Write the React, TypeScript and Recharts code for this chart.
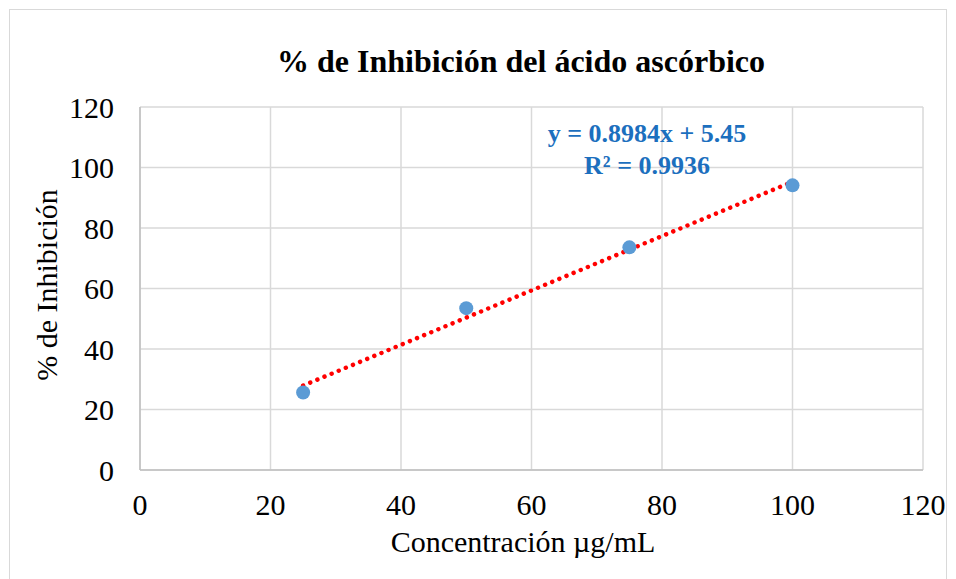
import React from 'react'
import { ScatterChart, Scatter, XAxis, YAxis, CartesianGrid, ReferenceLine } from 'recharts'

const concentracion = [25, 50, 75, 100]
const inhibicion = [25.6, 53.5, 73.6, 94.1]
const xTicks = [0, 20, 40, 60, 80, 100, 120]
const yTicks = [0, 20, 40, 60, 80, 100, 120]
// linear trendline y = 0.8984x + 5.45, evaluated at the first and last x
const trendX = [25, 100]
const trendY = [27.91, 95.29]

const points = concentracion.map((x, i) => ({ x, y: inhibicion[i] }))
const trend = trendX.map((x, i) => ({ x, y: trendY[i] }))

const serif = '"Liberation Serif", "Times New Roman", serif'

export default function App() {
  return (
    <div style={{ position: 'relative', width: 938, height: 580, border: '1px solid #d9d9d9', boxSizing: 'border-box', margin: '1px 0 0 1px', fontFamily: serif, background: '#fff' }}>
      <ScatterChart width={936} height={570} margin={{ top: 97, right: 23, bottom: 50, left: 60 }}>
        <CartesianGrid stroke="#d9d9d9" strokeWidth={1.5} />
        <XAxis type="number" dataKey="x" domain={[0, 120]} ticks={xTicks} height={60}
          axisLine={{ stroke: '#bfbfbf', strokeWidth: 1.5 }} tickLine={false} tickSize={0} tickMargin={24}
          tick={{ fill: '#000', fontSize: 30, fontFamily: serif }} />
        <YAxis type="number" dataKey="y" domain={[0, 120]} ticks={yTicks} width={70}
          axisLine={{ stroke: '#bfbfbf', strokeWidth: 1.5 }} tickLine={false} tickSize={0} tickMargin={26}
          tick={{ fill: '#000', fontSize: 30, fontFamily: serif }} />
        <Scatter data={points} fill="#5b9bd5" isAnimationActive={false}
          shape={(p: any) => <circle cx={p.cx} cy={p.cy} r={7} fill="#5b9bd5" />} />
        <ReferenceLine segment={trend} stroke="#ff0000" strokeWidth={4.5} strokeDasharray="0.01 7.7" strokeLinecap="round" />
      </ScatterChart>
      <div style={{ position: 'absolute', left: 511, top: 35, transform: 'translateX(-50%)', fontSize: 32, lineHeight: '32px', fontWeight: 'bold', whiteSpace: 'nowrap' }}>
        % de Inhibición del ácido ascórbico
      </div>
      <div style={{ position: 'absolute', left: 637, top: 111, transform: 'translateX(-50%)', fontSize: 26, lineHeight: '26px', fontWeight: 'bold', color: '#1c6fbe', whiteSpace: 'nowrap' }}>
        y = 0.8984x + 5.45
      </div>
      <div style={{ position: 'absolute', left: 637, top: 143, transform: 'translateX(-50%)', fontSize: 26, lineHeight: '26px', fontWeight: 'bold', color: '#1c6fbe', whiteSpace: 'nowrap' }}>
        R² = 0.9936
      </div>
      <div style={{ position: 'absolute', left: 513, top: 517, transform: 'translateX(-50%)', fontSize: 30, lineHeight: '30px', whiteSpace: 'nowrap' }}>
        Concentración µg/mL
      </div>
      <div style={{ position: 'absolute', left: 37, top: 275, transform: 'translate(-50%, -50%) rotate(-90deg)', fontSize: 30, lineHeight: '30px', whiteSpace: 'nowrap' }}>
        % de Inhibición
      </div>
    </div>
  )
}
